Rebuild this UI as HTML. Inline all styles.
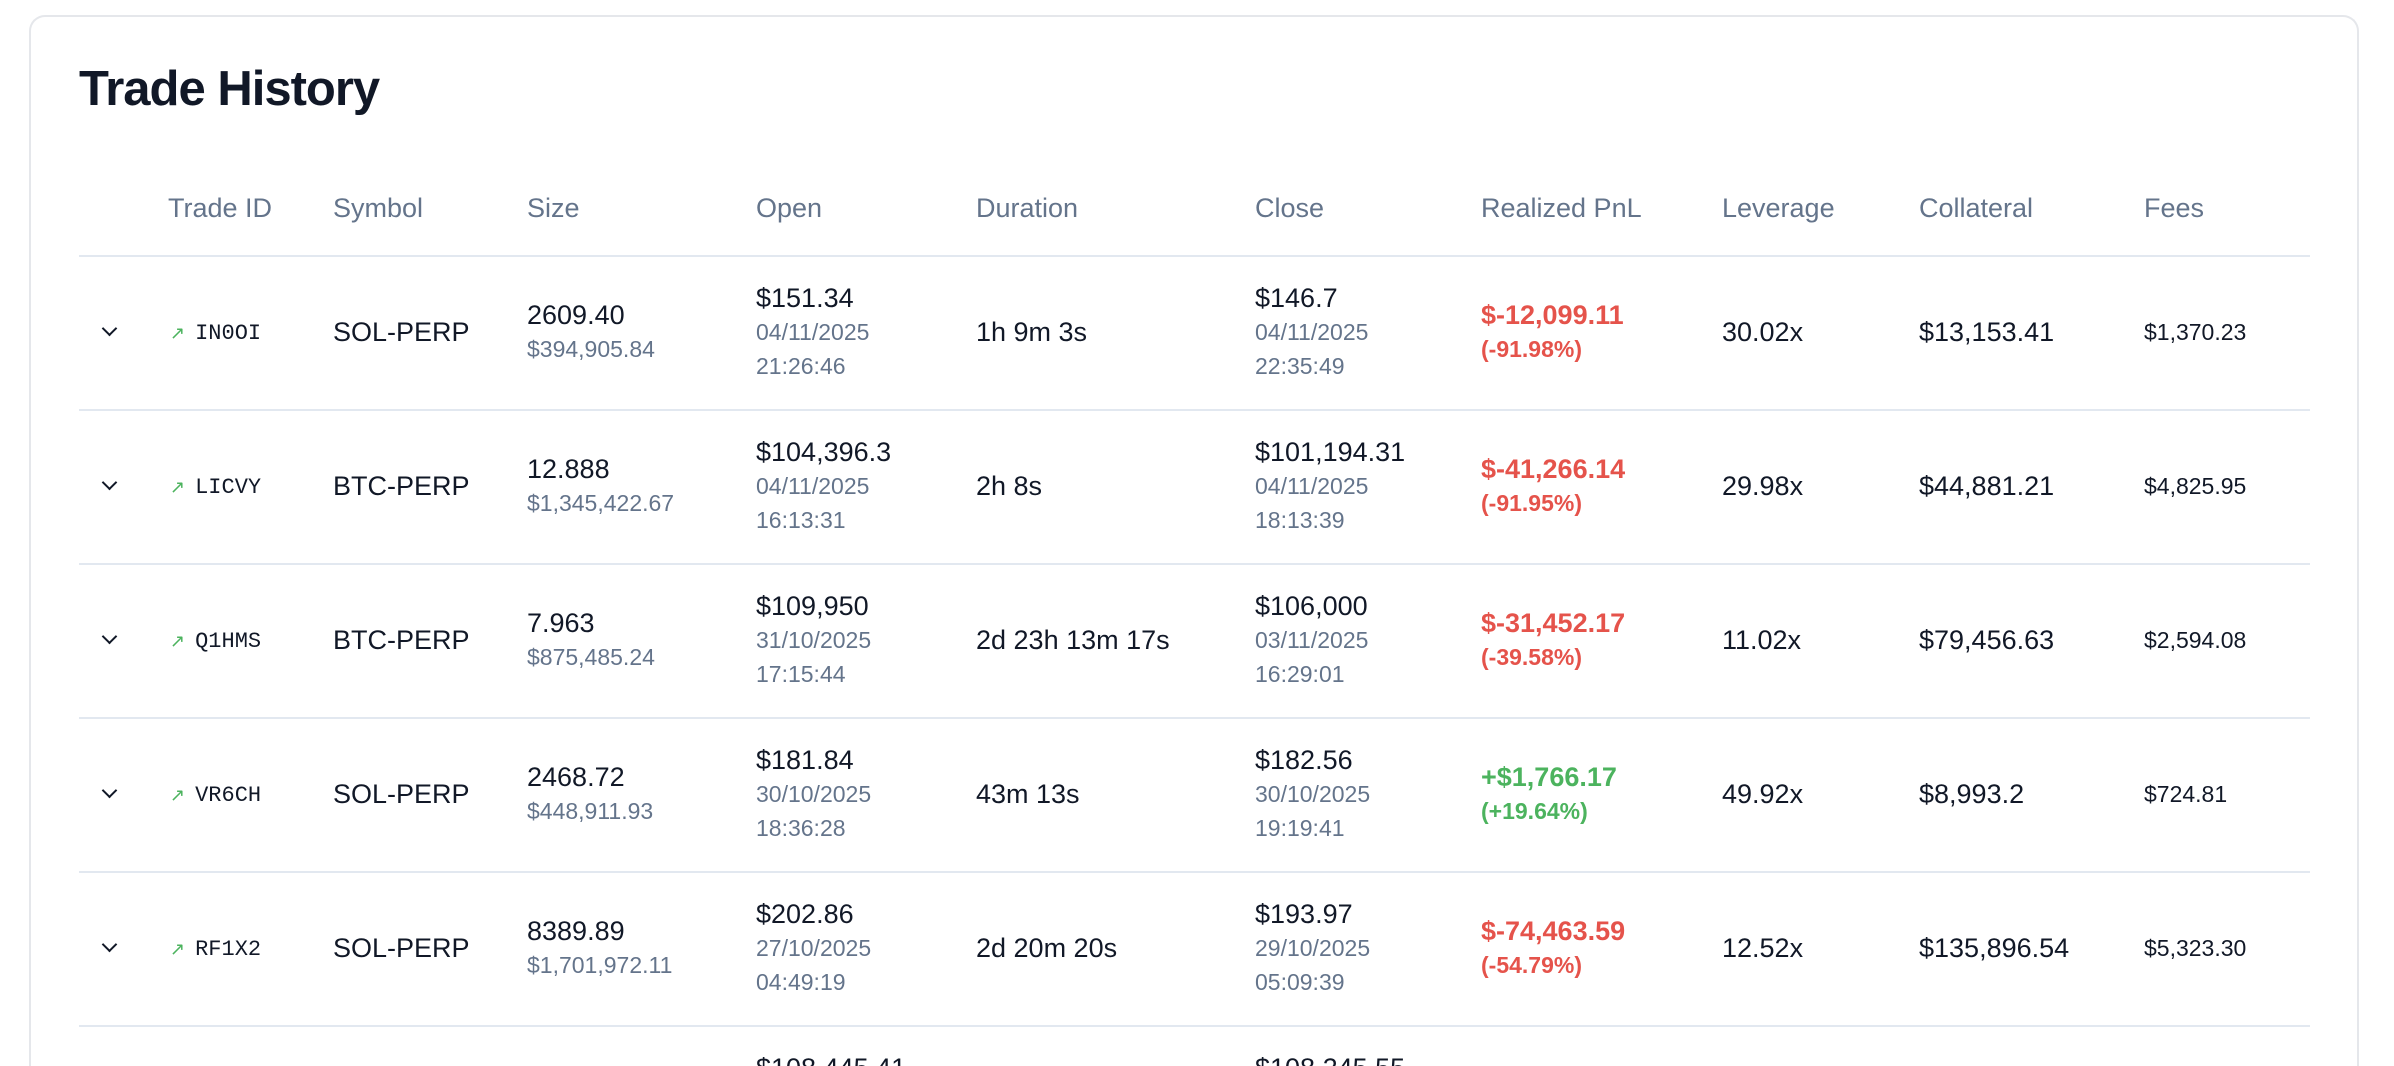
<!DOCTYPE html>
<html><head><meta charset="utf-8">
<style>
html,body{margin:0;padding:0;background:#fff;width:2394px;height:1066px;overflow:hidden;font-family:"Liberation Sans",Arial,sans-serif;}
#wrap{position:relative;width:2394px;height:1066px;overflow:hidden;}
.card{position:absolute;left:29px;top:15px;width:2330px;height:1051px;border:2px solid #e5e7eb;border-bottom:none;border-radius:16px 16px 0 0;box-sizing:border-box;background:#fff;}
.title{position:absolute;left:79px;top:61px;font-size:49px;font-weight:bold;color:#111827;letter-spacing:-1px;}
.hdr{position:absolute;top:193px;font-size:27px;color:#64748b;}
.line{position:absolute;left:79px;width:2231px;height:2px;background:#e2e8f0;}
.cell{position:absolute;display:flex;flex-direction:column;justify-content:center;height:154px;font-size:27px;color:#111827;line-height:34px;white-space:nowrap;}
.sub{font-size:23px;color:#64748b;}
.mono{font-family:"Liberation Mono",monospace;font-size:22px;}
.red{color:#e5534b;font-weight:bold;}
.green{color:#4cb35e;font-weight:bold;}
.pct{font-size:23px;}
.fee{font-size:23px;}
.chev{position:absolute;width:9px;height:9px;border-right:2.5px solid #111827;border-bottom:2.5px solid #111827;transform:rotate(45deg);}
.arr{color:#4cb35e;font-size:18px;margin-right:10px;font-family:"DejaVu Sans",sans-serif;}
</style></head><body>
<div id="wrap">
<div class="card"></div>
<div class="title">Trade History</div>
<div class="hdr" style="left:168px">Trade ID</div>
<div class="hdr" style="left:333px">Symbol</div>
<div class="hdr" style="left:527px">Size</div>
<div class="hdr" style="left:756px">Open</div>
<div class="hdr" style="left:976px">Duration</div>
<div class="hdr" style="left:1255px">Close</div>
<div class="hdr" style="left:1481px">Realized PnL</div>
<div class="hdr" style="left:1722px">Leverage</div>
<div class="hdr" style="left:1919px">Collateral</div>
<div class="hdr" style="left:2144px">Fees</div>
<div id="rows"></div>
</div>
<script>
const ids=["IN0OI","LICVY","Q1HMS","VR6CH","RF1X2","ZX9QA"];
const symbols=["SOL-PERP","BTC-PERP","BTC-PERP","SOL-PERP","SOL-PERP","BTC-PERP"];
const sizes=["2609.40","12.888","7.963","2468.72","8389.89","5.120"];
const notionals=["$394,905.84","$1,345,422.67","$875,485.24","$448,911.93","$1,701,972.11","$555,240.50"];
const openPrices=["$151.34","$104,396.3","$109,950","$181.84","$202.86","$108,445.41"];
const openDates=["04/11/2025","04/11/2025","31/10/2025","30/10/2025","27/10/2025","26/10/2025"];
const openTimes=["21:26:46","16:13:31","17:15:44","18:36:28","04:49:19","10:12:05"];
const durations=["1h 9m 3s","2h 8s","2d 23h 13m 17s","43m 13s","2d 20m 20s","1h 2m"];
const closePrices=["$146.7","$101,194.31","$106,000","$182.56","$193.97","$108,245.55"];
const closeDates=["04/11/2025","04/11/2025","03/11/2025","30/10/2025","29/10/2025","26/10/2025"];
const closeTimes=["22:35:49","18:13:39","16:29:01","19:19:41","05:09:39","11:14:05"];
const pnls=["$-12,099.11","$-41,266.14","$-31,452.17","+$1,766.17","$-74,463.59","$-1,023.00"];
const pnlPcts=["(-91.98%)","(-91.95%)","(-39.58%)","(+19.64%)","(-54.79%)","(-5.00%)"];
const leverages=["30.02x","29.98x","11.02x","49.92x","12.52x","20.00x"];
const collaterals=["$13,153.41","$44,881.21","$79,456.63","$8,993.2","$135,896.54","$27,762.03"];
const fees=["$1,370.23","$4,825.95","$2,594.08","$724.81","$5,323.30","$1,998.00"];
const root=document.getElementById('rows');
function add(html,cls,left,top,name){
  const d=document.createElement('div');
  d.className=cls;d.style.left=left+'px';d.style.top=top+'px';d.innerHTML=html;
  
  
  root.appendChild(d);return d;
}
const R=154, T0=255;
for(let i=0;i<ids.length;i++){
  const top=T0+R*i;
  const ln=document.createElement('div');ln.className='line';ln.style.top=top+'px';
  
  
  root.appendChild(ln);
  const ch=document.createElement('div');ch.className='chev';ch.style.left='104px';ch.style.top=(top+R/2-9)+'px';
  
  
  root.appendChild(ch);
  const pos=!pnls[i].startsWith('$-');
  add('<div><span class="arr">↗</span><span class="mono">'+ids[i]+'</span></div>','cell',170,top,'trade-id');
  add('<div>'+symbols[i]+'</div>','cell',333,top,'symbol');
  add('<div>'+sizes[i]+'</div><div class="sub">'+notionals[i]+'</div>','cell',527,top,'size');
  add('<div>'+openPrices[i]+'</div><div class="sub">'+openDates[i]+'</div><div class="sub">'+openTimes[i]+'</div>','cell',756,top,'open');
  add('<div>'+durations[i]+'</div>','cell',976,top,'duration');
  add('<div>'+closePrices[i]+'</div><div class="sub">'+closeDates[i]+'</div><div class="sub">'+closeTimes[i]+'</div>','cell',1255,top,'close');
  add('<div class="'+(pos?'green':'red')+'">'+pnls[i]+'</div><div class="pct '+(pos?'green':'red')+'">'+pnlPcts[i]+'</div>','cell',1481,top,'realized-pnl');
  add('<div>'+leverages[i]+'</div>','cell',1722,top,'leverage');
  add('<div>'+collaterals[i]+'</div>','cell',1919,top,'collateral');
  add('<div class="fee">'+fees[i]+'</div>','cell',2144,top,'fees');
}
</script>
</body></html>
